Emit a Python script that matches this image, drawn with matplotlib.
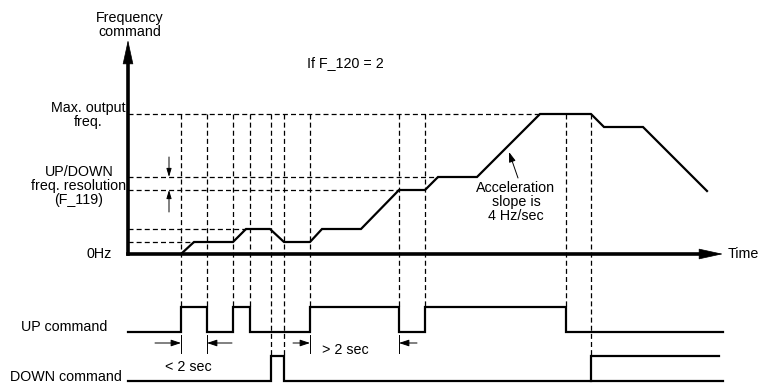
import matplotlib
matplotlib.use("Agg")
import matplotlib.pyplot as plt

plt.rcParams['font.family'] = ['Liberation Sans', 'DejaVu Sans']

# frequency command profile (time, level) -- time from origin, level above 0Hz
freq_t = [53, 66, 105, 118, 142, 156, 182, 194, 233, 271, 297, 310, 349, 412, 463, 476, 515, 579]
freq_f = [0, 12, 12, 25, 25, 12, 12, 25, 25, 64, 64, 77, 77, 140, 140, 127, 127, 63]

# reference levels (dashed) and the time where the profile first reaches them
ref_levels = [12, 25, 64, 77, 140]
ref_reach = [66, 118, 271, 310, 412]

# command signals: (rise, fall)
up_pulses = [(53, 79), (105, 122), (182, 271), (297, 438)]
down_pulses = [(143, 156), (463, 591)]
t_end = 595

# event times marked with vertical dashed lines
up_events = [53, 79, 105, 122, 182, 271, 297, 438]
down_events = [143, 156, 463]

max_freq = 140
up_base, down_base = -78, -127
pulse_h = 25

fig = plt.figure(figsize=(7.61, 3.84), dpi=100)
ax = fig.add_axes([0, 0, 1, 1])
ax.set_xlim(-128, 633)
ax.set_ylim(-130, 254)
ax.axis('off')

dash = dict(color='black', lw=0.9, ls=(0, (4, 2.5)))

# horizontal reference lines
for lev, t in zip(ref_levels, ref_reach):
    ax.plot([0, t], [lev, lev], **dash)

# vertical event lines
for t in up_events:
    ax.plot([t, t], [max_freq, up_base + pulse_h], **dash)
for t in down_events:
    ax.plot([t, t], [max_freq, down_base + pulse_h], **dash)

# frequency profile
ax.plot(freq_t, freq_f, color='black', lw=1.6, solid_joinstyle='miter')

# axes with arrows
ax.plot([0, 0], [0, 196], color='black', lw=2.6)
ax.plot([0, 578], [0, 0], color='black', lw=2.6)
ax.annotate('', xy=(0, 214), xytext=(0, 190),
            arrowprops=dict(arrowstyle='-|>,head_length=1.6,head_width=0.35',
                            color='black', lw=0.5, shrinkA=0, shrinkB=0))
ax.annotate('', xy=(595, 0), xytext=(574, 0),
            arrowprops=dict(arrowstyle='-|>,head_length=1.6,head_width=0.35',
                            color='black', lw=0.5, shrinkA=0, shrinkB=0))


def signal(pulses, base):
    xs, ys = [0], [base]
    for r, f in pulses:
        xs += [r, r, f, f]
        ys += [base, base + pulse_h, base + pulse_h, base]
    return xs, ys


ux, uy = signal(up_pulses, up_base)
ux.append(t_end); uy.append(up_base)
ax.plot(ux, uy, color='black', lw=1.6, solid_joinstyle='miter')

dx, dy = signal(down_pulses[:1], down_base)
dx.append(t_end); dy.append(down_base)
ax.plot(dx, dy, color='black', lw=1.6, solid_joinstyle='miter')
r, f = down_pulses[1]
ax.plot([r, r, f], [down_base, down_base + pulse_h, down_base + pulse_h],
        color='black', lw=1.6, solid_joinstyle='miter')

# dimension markers for < 2 sec / > 2 sec
dim_y = -89
for t in [53, 79, 182, 271]:
    ax.plot([t, t], [-81, -99], color='black', lw=0.7)
for tail, head in [(27, 53), (104, 79), (165, 182), (289, 271)]:
    ax.annotate('', xy=(head, dim_y), xytext=(tail, dim_y),
                arrowprops=dict(arrowstyle='-|>,head_length=0.6,head_width=0.2',
                                color='black', lw=0.7, shrinkA=0, shrinkB=0))

# resolution markers
ax.annotate('', xy=(41, 77), xytext=(41, 97),
            arrowprops=dict(arrowstyle='-|>,head_length=0.5,head_width=0.15',
                            color='black', lw=0.7, shrinkA=0, shrinkB=0))
ax.annotate('', xy=(41, 64), xytext=(41, 42),
            arrowprops=dict(arrowstyle='-|>,head_length=0.5,head_width=0.15',
                            color='black', lw=0.7, shrinkA=0, shrinkB=0))

# acceleration note
ax.annotate('', xy=(381, 102), xytext=(390, 76),
            arrowprops=dict(arrowstyle='-|>,head_length=0.6,head_width=0.2',
                            color='black', lw=0.7, shrinkA=0, shrinkB=0))

fs = 10.3
ls = 1.0
ax.text(2, 229, 'Frequency\ncommand', ha='center', va='center', fontsize=fs, linespacing=ls)
ax.text(-40, 139, 'Max. output\nfreq.', ha='center', va='center', fontsize=fs, linespacing=ls)
ax.text(-49, 68, 'UP/DOWN\nfreq. resolution\n(F_119)', ha='center', va='center',
        fontsize=fs, linespacing=ls)
ax.text(-16, 0, '0Hz', ha='right', va='center', fontsize=fs)
ax.text(217, 191, 'If F_120 = 2', ha='center', va='center', fontsize=fs)
ax.text(388, 52, 'Acceleration\nslope is\n4 Hz/sec', ha='center', va='center',
        fontsize=fs, linespacing=ls)
ax.text(600, 0, 'Time', ha='left', va='center', fontsize=fs)
ax.text(-21, -73, 'UP command', ha='right', va='center', fontsize=fs)
ax.text(-6, -123, 'DOWN command', ha='right', va='center', fontsize=fs)
ax.text(60, -113, '< 2 sec', ha='center', va='center', fontsize=fs)
ax.text(217, -96, '> 2 sec', ha='center', va='center', fontsize=fs)

fig.savefig('out.png', dpi=100)
